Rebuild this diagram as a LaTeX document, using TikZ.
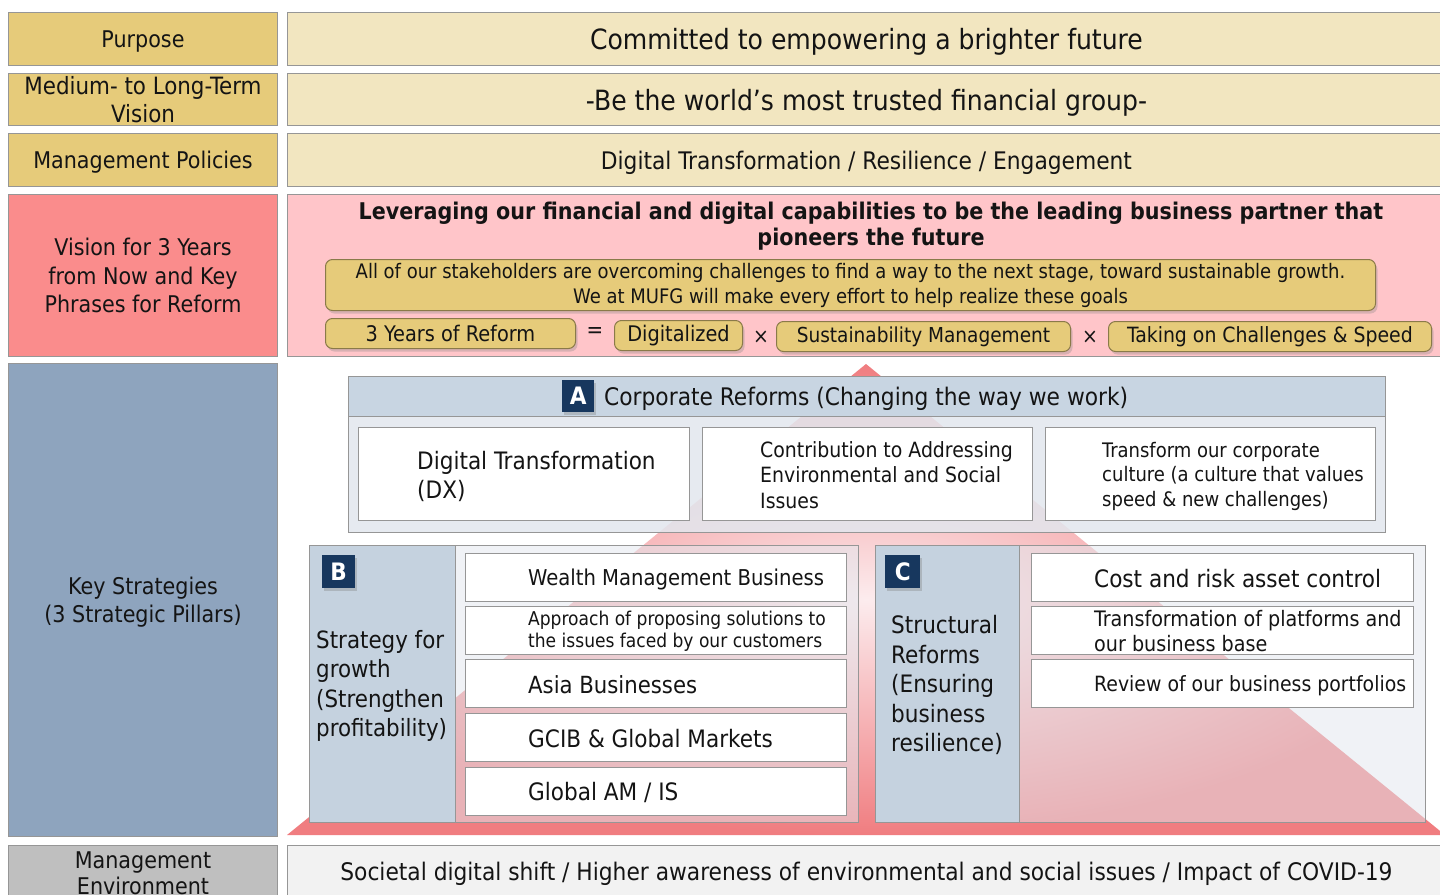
\documentclass[tikz,border=0pt]{standalone}
\usepackage{fontspec}
\setmainfont{DejaVu Sans Condensed}
\usetikzlibrary{shadows}
\definecolor{goldL}{RGB}{230,203,122}
\definecolor{goldR}{RGB}{242,230,192}
\definecolor{pinkL}{RGB}{250,140,140}
\definecolor{pinkR}{RGB}{255,197,201}
\definecolor{blueL}{RGB}{142,164,190}
\definecolor{grayL}{RGB}{191,191,191}
\definecolor{grayR}{RGB}{242,242,242}
\definecolor{hdrA}{RGB}{200,213,226}
\definecolor{bodyA}{RGB}{226,231,238}
\definecolor{colB}{RGB}{197,210,223}
\definecolor{navy}{RGB}{23,55,94}
\definecolor{bord}{RGB}{150,150,150}
\definecolor{triRed}{RGB}{240,125,128}
\definecolor{triIn}{RGB}{252,236,238}
\definecolor{txtc}{RGB}{20,20,20}
\newcommand\fs[2]{\fontsize{#1}{#2}\selectfont}
\begin{document}
\begin{tikzpicture}[x=1pt,y=-1pt,
  box/.style={draw=bord, line width=1pt, inner sep=0pt, anchor=north west, align=center, text=txtc},
  lowtext/.style={text depth=0pt},
  gbox/.style={box, fill=goldL, draw=goldL!60!black, rounded corners=7pt,
     drop shadow={shadow xshift=2pt, shadow yshift=-3pt, opacity=.3}},
  badge/.style={anchor=north west, inner sep=0pt, fill=navy, text=white, font=\bfseries\fs{24}{26},
     drop shadow={shadow xshift=2pt, shadow yshift=-3pt, opacity=.35}},
  txt/.style={inner sep=0pt, align=left, text=txtc},
  wbox/.style={box, fill=white}
]
\useasboundingbox (0,0) rectangle (1440,894);
\fill[white] (0,0) rectangle (1440,894);

% left column
\node[box, lowtext, fill=goldL, minimum width=269pt, minimum height=53pt, font=\fs{23}{28}] (purp) at (8,12) {Purpose};
\node[box, fill=goldL, minimum width=269pt, minimum height=52pt, font=\fs{23.8}{28}] (medv) at (8,73) {Medium- to Long-Term\\Vision};
\node[box, lowtext, fill=goldL, minimum width=269pt, minimum height=53pt, font=\fs{23}{28}] (mpol) at (8,133) {Management Policies};
\node[box, fill=pinkL, minimum width=269pt, minimum height=162pt, font=\fs{23}{28.5}] (vis3) at (8,194) {Vision for 3 Years\\from Now and Key\\Phrases for Reform};
\node[box, lowtext, fill=blueL, minimum width=269pt, minimum height=473pt, font=\fs{23}{28.5}] (keys) at (8,363) {Key Strategies\\(3 Strategic Pillars)};
\node[box, fill=grayL, minimum width=269pt, minimum height=55pt, font=\fs{23}{26}] (menv) at (8,845) {Management\\Environment};

% right rows
\node[box, lowtext, fill=goldR, minimum width=1158pt, minimum height=53pt, font=\fs{27.9}{30}] (r1) at (287,12) {Committed to empowering a brighter future};
\node[box, lowtext, fill=goldR, minimum width=1158pt, minimum height=52pt, font=\fs{27.9}{30}] (r2) at (287,73) {-Be the world’s most trusted financial group-};
\node[box, lowtext, fill=goldR, minimum width=1158pt, minimum height=53pt, font=\fs{24.2}{28}] (r3) at (287,133) {Digital Transformation / Resilience / Engagement};
\node[box, fill=pinkR, minimum width=1158pt, minimum height=162pt] (r4) at (287,194) {};
\node[box, fill=grayR, minimum width=1158pt, minimum height=56pt, font=\fs{24.2}{28}] (r6) at (287,845) {Societal digital shift / Higher awareness of environmental and social issues / Impact of COVID-19};

% pink area content
\node[txt, align=center, font=\bfseries\fs{23}{26}] (head) at (871,226) {Leveraging our financial and digital capabilities to be the leading business partner that\\pioneers the future};
\node[gbox, minimum width=1050pt, minimum height=51pt, font=\fs{20}{25}] (stake) at (325,259) {All of our stakeholders are overcoming challenges to find a way to the next stage, toward sustainable growth.\\We at MUFG will make every effort to help realize these goals};
\node[gbox, minimum width=250pt, minimum height=30pt, font=\fs{21.5}{24}] (yr3) at (325,318) {3 Years of Reform};
\node[txt, font=\fs{22}{24}] (eq) at (595,333) {=};
\node[gbox, minimum width=128pt, minimum height=30pt, font=\fs{21.5}{24}] (dig) at (614,320) {Digitalized};
\node[txt, font=\fs{21}{24}] (x1) at (761,337) {×};
\node[gbox, minimum width=294pt, minimum height=30pt, font=\fs{20.6}{24}] (sus) at (776,321) {Sustainability Management};
\node[txt, font=\fs{21}{24}] (x2) at (1090,337) {×};
\node[gbox, minimum width=323pt, minimum height=30pt, font=\fs{21}{24}] (tak) at (1108,321) {Taking on Challenges \& Speed};

% triangle
\shade[inner color=triIn, outer color=triRed] (866,364) -- (287,835) -- (1445,835) -- cycle;

% A
\node[box, fill=bodyA, fill opacity=.85, minimum width=1037pt, minimum height=156pt] (Abox) at (348,376) {};
\node[box, fill=hdrA, minimum width=1037pt, minimum height=40pt] (Ahdr) at (348,376) {};
\node[badge, minimum width=32pt, minimum height=32pt] (Abadge) at (562,380) {A};
\node[txt, anchor=west, font=\fs{24.2}{28}] (Atitle) at (604,399) {Corporate Reforms (Changing the way we work)};
\node[wbox, minimum width=331pt, minimum height=93pt] (A1) at (358,427) {};
\node[txt, anchor=west, font=\fs{24}{29}] (A1t) at (417,476) {Digital Transformation\\(DX)};
\node[wbox, minimum width=330pt, minimum height=93pt] (A2) at (702,427) {};
\node[txt, anchor=west, font=\fs{21}{25.5}] (A2t) at (760,475) {Contribution to Addressing\\Environmental and Social\\Issues};
\node[wbox, minimum width=330pt, minimum height=93pt] (A3) at (1045,427) {};
\node[txt, anchor=west, font=\fs{20}{24.5}] (A3t) at (1102,476) {Transform our corporate\\culture (a culture that values\\speed \& new challenges)};

% B
\node[box, fill=bodyA, fill opacity=.5, minimum width=549pt, minimum height=277pt] (Bbox) at (309,545) {};
\node[box, fill=colB, minimum width=146pt, minimum height=277pt] (Bcol) at (309,545) {};
\node[badge, minimum width=33pt, minimum height=33pt] (Bbadge) at (322,555) {B};
\node[txt, anchor=west, font=\fs{23.8}{29.5}] (Bt) at (316,686) {Strategy for\\growth\\(Strengthen\\profitability)};
\node[wbox, minimum width=381pt, minimum height=48pt] (B1) at (465,553) {};
\node[txt, anchor=west, font=\fs{21.8}{26}] (B1t) at (528,579) {Wealth Management Business};
\node[wbox, minimum width=381pt, minimum height=48pt] (B2) at (465,606) {};
\node[txt, anchor=west, font=\fs{19}{22}] (B2t) at (528,631) {Approach of proposing solutions to\\the issues faced by our customers};
\node[wbox, minimum width=381pt, minimum height=48pt] (B3) at (465,659) {};
\node[txt, anchor=west, font=\fs{23.6}{26}] (B3t) at (528,685) {Asia Businesses};
\node[wbox, minimum width=381pt, minimum height=48pt] (B4) at (465,713) {};
\node[txt, anchor=west, font=\fs{24}{26}] (B4t) at (528,739) {GCIB \& Global Markets};
\node[wbox, minimum width=381pt, minimum height=48pt] (B5) at (465,767) {};
\node[txt, anchor=west, font=\fs{24}{26}] (B5t) at (528,792) {Global AM / IS};

% C
\node[box, fill=bodyA, fill opacity=.5, minimum width=550pt, minimum height=277pt] (Cbox) at (875,545) {};
\node[box, fill=colB, minimum width=144pt, minimum height=277pt] (Ccol) at (875,545) {};
\node[badge, minimum width=35pt, minimum height=33pt] (Cbadge) at (885,555) {C};
\node[txt, anchor=west, font=\fs{24}{29.5}] (Ct) at (891,685) {Structural\\Reforms\\(Ensuring\\business\\resilience)};
\node[wbox, minimum width=382pt, minimum height=48pt] (C1) at (1031,553) {};
\node[txt, anchor=west, font=\fs{24}{26}] (C1t) at (1094,579) {Cost and risk asset control};
\node[wbox, minimum width=382pt, minimum height=48pt] (C2) at (1031,606) {};
\node[txt, anchor=west, font=\fs{21.3}{25}] (C2t) at (1094,631) {Transformation of platforms and\\our business base};
\node[wbox, minimum width=382pt, minimum height=48pt] (C3) at (1031,659) {};
\node[txt, anchor=west, font=\fs{21}{25}] (C3t) at (1094,686) {Review of our business portfolios};
\end{tikzpicture}
\end{document}
